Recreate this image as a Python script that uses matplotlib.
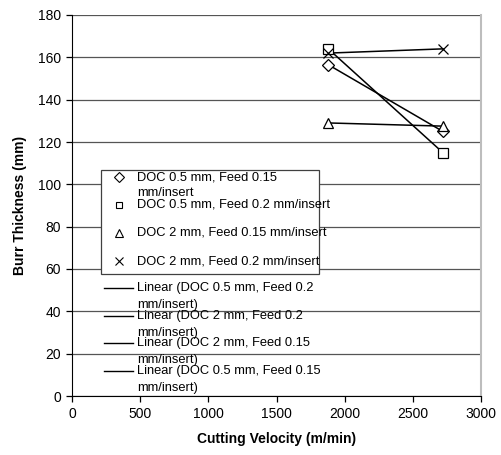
import numpy as np
import matplotlib.pyplot as plt
from matplotlib.lines import Line2D
from matplotlib.patches import Rectangle

plt.rcParams['font.family'] = ['Liberation Sans', 'DejaVu Sans']

# series: cutting velocity (m/min) vs burr thickness (mm)
vel = [1880, 2720]
doc05_f015 = [156.5, 125]
doc05_f02 = [164, 115]
doc2_f015 = [129, 127.5]
doc2_f02 = [162, 164]

marker_labels = ["DOC 0.5 mm, Feed 0.15\nmm/insert",
                 "DOC 0.5 mm, Feed 0.2 mm/insert",
                 "DOC 2 mm, Feed 0.15 mm/insert",
                 "DOC 2 mm, Feed 0.2 mm/insert"]
trend_labels = ["Linear (DOC 0.5 mm, Feed 0.2\nmm/insert)",
                "Linear (DOC 2 mm, Feed 0.2\nmm/insert)",
                "Linear (DOC 2 mm, Feed 0.15\nmm/insert)",
                "Linear (DOC 0.5 mm, Feed 0.15\nmm/insert)"]

W, H = 502, 455
fig = plt.figure(figsize=(W / 100, H / 100), dpi=100)
ax = fig.add_axes([72 / W, 1 - 396 / H, (481 - 72) / W, (396 - 15) / H])


def px(x, y):
    return x / W, 1 - y / H


series = [(doc05_f015, 'D', 6.5), (doc05_f02, 's', 6.5), (doc2_f015, '^', 7), (doc2_f02, 'x', 7.5)]
for ys, m, ms in series:
    ax.plot(vel, ys, linestyle='none', marker=m, ms=ms, mfc='white', mec='black',
            mew=0.9, zorder=4)

# linear trend lines
for ys in [doc05_f02, doc2_f02, doc2_f015, doc05_f015]:
    k, b = np.polyfit(vel, ys, 1)
    xx = np.array([min(vel), max(vel)])
    ax.plot(xx, k * xx + b, color='black', lw=1.1, zorder=3)

ax.set_xlim(0, 3000)
ax.set_ylim(0, 180)
ax.set_xticks(np.arange(0, 3001, 500))
ax.set_yticks(np.arange(0, 181, 20))
ax.yaxis.grid(True, color='#555555', lw=0.9)
ax.set_axisbelow(True)
ax.tick_params(direction='out', length=4, width=0.9, labelsize=10, pad=4)
ax.spines['top'].set_visible(False)
ax.spines['right'].set_color('#bdbdbd')
ax.spines['right'].set_linewidth(1.5)
ax.set_xlabel('Cutting Velocity (m/min)', fontsize=10, fontweight='bold', labelpad=8)
ax.set_ylabel('Burr Thickness (mm)', fontsize=10, fontweight='bold', labelpad=8)

# legend drawn by hand, Excel style (frame only around marker entries)
x0, y0 = px(101, 274)
x1, y1 = px(319, 170)
fig.patches.append(Rectangle((x0, y0), x1 - x0, y1 - y0, transform=fig.transFigure,
                             facecolor='white', edgecolor='#404040', lw=0.9, zorder=5))
marker_rows = [177, 205, 233, 261]
for (ys, m, ms), lab, ry in zip(series, marker_labels, marker_rows):
    mx, my = px(119, ry)
    fig.add_artist(Line2D([mx], [my], marker=m, ms=ms - 1.5, mfc='white', mec='black',
                          mew=0.8, linestyle='none', zorder=6))
    lines = lab.split('\n')
    for i, t in enumerate(lines):
        tx, ty = px(137, ry + 16 * i)
        fig.text(tx, ty, t, fontsize=9.3, va='center', ha='left', zorder=6)

trend_rows = [288, 316, 343, 371]
for lab, ry in zip(trend_labels, trend_rows):
    lx0, ly = px(104, ry)
    lx1, _ = px(133, ry)
    fig.add_artist(Line2D([lx0, lx1], [ly, ly], color='black', lw=1.0, zorder=6))
    for i, t in enumerate(lab.split('\n')):
        tx, ty = px(137, ry + 17 * i)
        fig.text(tx, ty, t, fontsize=9.3, va='center', ha='left', zorder=6)

fig.savefig('out.png', dpi=100)
